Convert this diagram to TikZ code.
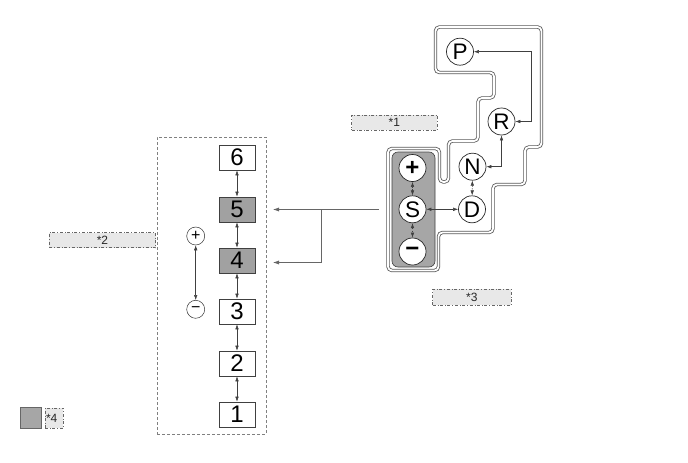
\documentclass[tikz,border=0pt]{standalone}
\usepackage{fontspec}
\setmainfont{Liberation Sans}
\usetikzlibrary{arrows.meta}
\begin{document}
\begin{tikzpicture}[x=1pt,y=-1pt,
  gearbox/.style={draw=black!75, fill=white, line width=0.6pt, minimum width=36pt, minimum height=25pt, inner sep=0pt, font=\fontsize{24}{24}\selectfont},
  gearsel/.style={gearbox, fill=black!37},
  shiftpos/.style={circle, draw=black!85, fill=white, line width=0.7pt, minimum size=27pt, inner sep=0pt, font=\fontsize{22.5}{22.5}\selectfont},
  signcirc/.style={circle, draw=black!80, fill=white, line width=0.5pt, minimum size=18pt, inner sep=0pt, font=\fontsize{16}{16}\selectfont},
  tagbox/.style={draw=black!60, dash dot, line width=0.5pt, fill=black!9, inner sep=0pt, text=black!85, font=\fontsize{12}{12}\selectfont},
  dblarr/.style={{Latex[length=5pt,width=3.5pt]}-{Latex[length=5pt,width=3.5pt]}, line width=0.5pt, draw=black!75},
  dashdblarr/.style={dblarr, dash pattern=on 1.5pt off 1.2pt},
  feedarr/.style={-{Latex[length=6pt,width=4pt]}, line width=0.5pt, draw=black!60},
  gatetrack/.style={draw=black!65, line width=0.8pt, double=white, double distance=1.8pt, rounded corners=4pt}
]
\useasboundingbox (0,0) rectangle (688,463);

% left panel
\node[draw=black!50, dash pattern=on 3pt off 2pt, line width=0.6pt, minimum width=109pt, minimum height=297pt, inner sep=0pt] (panel) at (211.5,285.5) {};
\node[gearbox] (g6) at (237,157.5) {6};
\node[gearsel] (g5) at (237,209.5) {5};
\node[gearsel] (g4) at (237,260.5) {4};
\node[gearbox] (g3) at (237,311.5) {3};
\node[gearbox] (g2) at (237,363.5) {2};
\node[gearbox] (g1) at (237,414.5) {1};
\draw[dblarr] (g6) -- (g5);
\draw[dblarr] (g5) -- (g4);
\draw[dblarr] (g4) -- (g3);
\draw[dblarr] (g3) -- (g2);
\draw[dblarr] (g2) -- (g1);

\node[signcirc] (up) at (195.7,236) {+};
\node[signcirc] (dn) at (195.7,309.3) {−};
\draw[dblarr] (up) -- (dn);

% feed arrows
\coordinate (src) at (379,209.5);
\coordinate (jn) at (321.7,209.5);
\coordinate (t5) at (273,209.5);
\coordinate (t4) at (273,262.5);
\draw[feedarr] (src) -- (t5);
\draw[feedarr] (jn) |- (t4);

% shift gate
\draw[gatetrack] (480,27) -- (541.5,27) -- (541.5,147) -- (525,147) -- (525,184.5) -- (493,184.5) -- (493,232.5) -- (438.5,232.5) -- (438.5,270.5) -- (388,270.5) -- (388,148.5) -- (439.5,148.5) -- (439.5,182) -- (448.5,182) -- (448.5,141) -- (478,141) -- (478,98) -- (494,98) -- (494,72.5) -- (435.5,72.5) -- (435.5,27) -- cycle;

\node[draw=black!75, fill=black!35, line width=0.6pt, rounded corners=6pt, minimum width=43pt, minimum height=115pt, inner sep=0pt] (gate) at (413.5,209.5) {};

\node[shiftpos] (P) at (460,51.7) {P};
\node[shiftpos] (R) at (501.5,121.5) {R};
\node[shiftpos] (N) at (472.5,166.7) {N};
\node[shiftpos] (D) at (472,209.3) {D};
\node[shiftpos] (S) at (412.5,209.3) {S};
\node[shiftpos, font=\fontsize{24}{24}\selectfont\bfseries] (pl) at (412.5,168) {+};
\node[shiftpos, font=\fontsize{24}{24}\selectfont\bfseries] (mi) at (412.5,251.5) {−};

\draw[dashdblarr] (pl) -- (S);
\draw[dashdblarr] (S) -- (mi);
\draw[dashdblarr] (N) -- (D);
\draw[dblarr] (S) -- (D);
\draw[dblarr] (N) -| (R);
\coordinate (rp) at (531.5,121.5);
\draw[dblarr] (R) -- (rp) |- (P);

% tags
\node[tagbox, minimum width=85.3pt, minimum height=15pt] (t1) at (394.3,122.5) {*1};
\node[tagbox, minimum width=106.4pt, minimum height=15pt] (t2) at (102.5,240.2) {*2};
\node[tagbox, minimum width=78.3pt, minimum height=15.7pt] (t3) at (471.8,297.2) {*3};
\node[draw=black!60, fill=black!35, line width=0.6pt, minimum width=21pt, minimum height=20.6pt, inner sep=0pt] (key) at (31.2,418) {};
\node[tagbox, inner xsep=1pt, text width=16.3pt, align=left, minimum height=20pt] (t4tag) at (54.2,418) {*4};
\end{tikzpicture}
\end{document}
